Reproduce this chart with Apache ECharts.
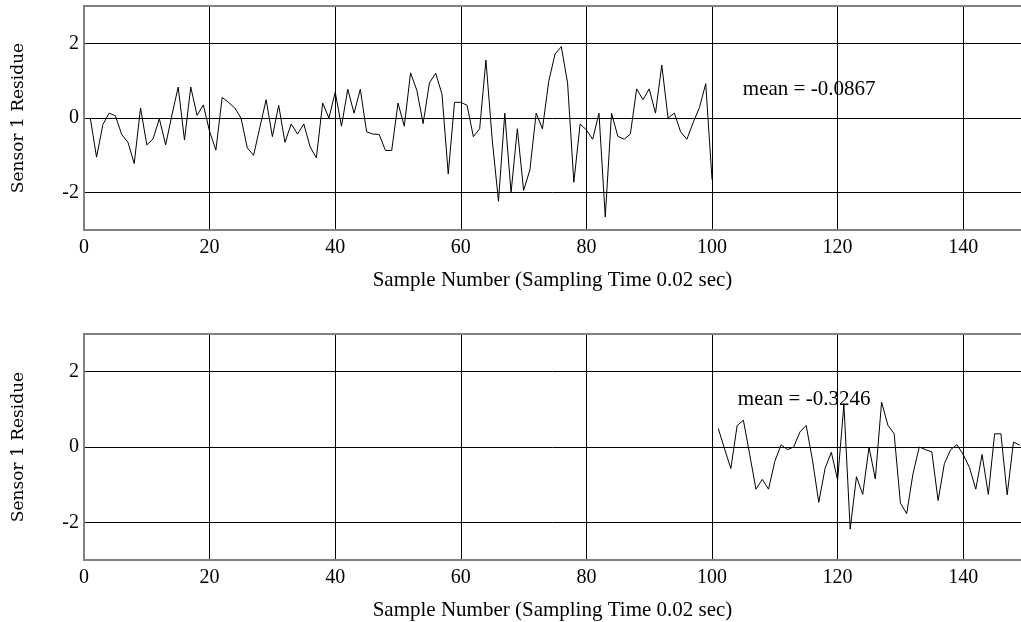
<!DOCTYPE html>
<html>
<head>
<meta charset="utf-8">
<script src="https://cdn.jsdelivr.net/npm/echarts@6/dist/echarts.min.js"></script>
<style>
  html, body { margin: 0; padding: 0; background: #fff; }
  #chart { width: 1021px; height: 622px; }
</style>
</head>
<body>
<div id="chart"></div>
<script>
// ---- data ----
const xTickValues = [0, 20, 40, 60, 80, 100, 120, 140];
const yTickValues = [-2, 0, 2];
const xAxisTitle = 'Sample Number (Sampling Time 0.02 sec)';
const yAxisTitle = 'Sensor 1 Residue';

const topStart = 1;
const topValues = [
  0.00, -1.05, -0.18, 0.13, 0.06, -0.44, -0.65, -1.22, 0.27, -0.72,
  -0.56, -0.02, -0.72, 0.08, 0.83, -0.59, 0.83, 0.07, 0.35, -0.36,
  -0.86, 0.55, 0.42, 0.27, 0.00, -0.80, -1.00, -0.25, 0.49, -0.50,
  0.34, -0.65, -0.16, -0.43, -0.16, -0.77, -1.07, 0.40, 0.00, 0.69,
  -0.22, 0.77, 0.13, 0.77, -0.37, -0.43, -0.44, -0.87, -0.87, 0.40,
  -0.22, 1.21, 0.74, -0.15, 0.94, 1.20, 0.64, -1.50, 0.42, 0.42,
  0.34, -0.50, -0.29, 1.55, -0.58, -2.23, 0.13, -2.00, -0.29, -1.94,
  -1.39, 0.13, -0.29, 0.98, 1.71, 1.91, 0.94, -1.72, -0.16, -0.32,
  -0.57, 0.13, -2.65, 0.13, -0.49, -0.57, -0.43, 0.78, 0.49, 0.78,
  0.13, 1.42, 0.00, 0.13, -0.37, -0.57, -0.12, 0.28, 0.92, -1.65
];
const topMeanText = 'mean = -0.0867';
const topMeanPos = [104.9, 0.76];

const bottomStart = 101;
const bottomValues = [
  0.49, -0.05, -0.57, 0.57, 0.71, -0.20, -1.12, -0.86, -1.12, -0.38,
  0.06, -0.07, 0.00, 0.40, 0.57, -0.35, -1.47, -0.57, -0.14, -0.88,
  1.13, -2.18, -0.79, -1.26, 0.00, -0.85, 1.19, 0.58, 0.35, -1.49,
  -1.77, -0.71, 0.00, -0.07, -0.13, -1.42, -0.44, -0.07, 0.06, -0.20,
  -0.55, -1.12, -0.20, -1.26, 0.35, 0.35, -1.27, 0.13, 0.05
];
const bottomMeanText = 'mean = -0.3246';
const bottomMeanPos = [104.1, 1.27];

// ---- build ----
function pairs(start, vals) {
  return vals.map((v, i) => [start + i, v]);
}

const serif = '"Liberation Serif", "Times New Roman", serif';
const gridCol = '#000';
const borderStyle = { color: '#808080', width: 2 };
const X_MAX = 149.2;
const FS = 20;
const FS_TEXT = 21;

function makeX(gridIndex) {
  return {
    type: 'value', gridIndex, min: 0, max: X_MAX, position: 'bottom',
    name: xAxisTitle, nameLocation: 'middle', nameGap: 40,
    nameTextStyle: { fontFamily: serif, fontSize: FS_TEXT, color: '#000' },
    axisLine: { show: true, onZero: false, lineStyle: borderStyle },
    axisTick: { show: false, customValues: xTickValues },
    axisLabel: { fontFamily: serif, fontSize: FS, color: '#000', margin: 8,
                 customValues: xTickValues },
    splitLine: { show: true, lineStyle: { color: gridCol, width: 1 } }
  };
}
function makeXTop(gridIndex) {
  return {
    type: 'value', gridIndex, min: 0, max: X_MAX, position: 'top',
    axisLine: { show: true, onZero: false, lineStyle: borderStyle },
    axisTick: { show: false },
    axisLabel: { show: false },
    splitLine: { show: false }
  };
}
function makeY(gridIndex) {
  return {
    type: 'value', gridIndex, min: -3, max: 3,
    name: yAxisTitle, nameLocation: 'middle', nameGap: 57, nameRotate: 90,
    nameTextStyle: { fontFamily: '"DejaVu Serif", serif', fontSize: 17, color: '#000' },
    axisLine: { show: true, onZero: false, lineStyle: borderStyle },
    axisTick: { show: false, customValues: yTickValues },
    axisLabel: { fontFamily: serif, fontSize: FS, color: '#000', margin: 5, customValues: yTickValues },
    splitLine: { show: true, lineStyle: { color: gridCol, width: 1 } }
  };
}
function makeSeries(idx, start, vals, text, pos) {
  return {
    type: 'line', xAxisIndex: idx, yAxisIndex: idx,
    data: pairs(start, vals),
    showSymbol: false, symbol: 'none',
    lineStyle: { color: '#000', width: 1 },
    clip: true,
    markPoint: {
      symbol: 'circle', symbolSize: 0.1,
      itemStyle: { color: 'rgba(0,0,0,0)' },
      label: { show: true, position: 'right', distance: 0, formatter: text,
               fontFamily: serif, fontSize: FS_TEXT, color: '#000' },
      data: [{ coord: pos }]
    }
  };
}

const chart = echarts.init(document.getElementById('chart'), null, { renderer: 'canvas' });
chart.setOption({
  animation: false,
  backgroundColor: '#fff',
  grid: [
    { left: 84, top: 6, right: 0, height: 224, show: false },
    { left: 84, top: 334, right: 0, height: 226, show: false }
  ],
  xAxis: [makeX(0), makeX(1), makeXTop(0), makeXTop(1)],
  yAxis: [makeY(0), makeY(1)],
  series: [
    makeSeries(0, topStart, topValues, topMeanText, topMeanPos),
    makeSeries(1, bottomStart, bottomValues, bottomMeanText, bottomMeanPos)
  ]
});
</script>
</body>
</html>
